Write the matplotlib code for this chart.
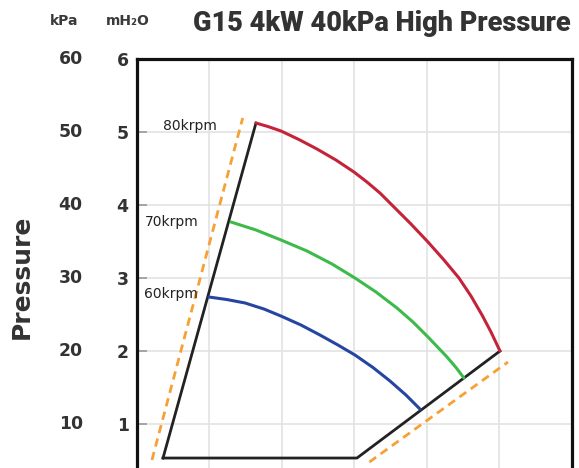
import matplotlib
matplotlib.use("Agg")
import matplotlib.pyplot as plt
import matplotlib.transforms as mtransforms

# values (x in grid units, y in mH2O)
red_x = [1.641, 1.807, 1.986, 2.234, 2.483, 2.745, 2.993, 3.172, 3.352,
         3.531, 3.766, 4.014, 4.234, 4.441, 4.607, 4.759, 4.883, 5.007]
red_y = [5.123, 5.075, 5.014, 4.897, 4.767, 4.616, 4.452, 4.315, 4.164,
         3.986, 3.753, 3.493, 3.247, 3.000, 2.753, 2.493, 2.260, 2.000]
green_x = [1.297, 1.641, 1.986, 2.345, 2.690, 3.007, 3.297, 3.586, 3.807,
           4.014, 4.152, 4.276, 4.400, 4.510]
green_y = [3.767, 3.658, 3.521, 3.370, 3.192, 3.000, 2.808, 2.589, 2.397,
           2.192, 2.048, 1.918, 1.774, 1.630]
blue_x = [0.993, 1.241, 1.490, 1.752, 1.986, 2.262, 2.524, 2.772, 3.007,
          3.255, 3.490, 3.710, 3.903]
blue_y = [2.740, 2.705, 2.658, 2.575, 2.479, 2.356, 2.219, 2.082, 1.945,
          1.774, 1.589, 1.397, 1.205]
env_x = [0.359, 3.034, 5.007]
env_y = [0.534, 0.534, 2.000]
limit_left_x = [0.206, 1.458]
limit_left_y = [0.507, 5.192]
limit_right_x = [3.205, 5.117]
limit_right_y = [0.479, 1.849]

mh2o_ticks = [1, 2, 3, 4, 5, 6]
kpa_labels = ["10", "20", "30", "40", "50", "60"]
speed_labels = ["80krpm", "70krpm", "60krpm"]

fig = plt.figure(figsize=(5.79, 4.68), dpi=100)
ax = fig.add_axes([0.2366, -0.062, 0.7513, 0.9359])
ax.set_xlim(0, 6)
ax.set_ylim(0, 6)

ax.grid(True, color="#e3e3e3", lw=1.2)
ax.set_axisbelow(True)
ax.set_xticks([1, 2, 3, 4, 5])
ax.tick_params(axis="x", length=0, labelbottom=False)
ax.set_yticks(mh2o_ticks)
ax.set_yticklabels([str(t) for t in mh2o_ticks])
ax.tick_params(axis="y", direction="in", length=7, width=1.2, color="#9a9a9a",
               pad=6, labelsize=12.4, labelcolor="#333333")
for lab in ax.get_yticklabels():
    lab.set_fontweight("bold")

for s in ["left", "top", "right"]:
    ax.spines[s].set_linewidth(2.3)
    ax.spines[s].set_color("#111111")
ax.spines["bottom"].set_visible(False)

# envelope
ax.plot([env_x[0], red_x[0]], [env_y[0], red_y[0]], color="#222222", lw=2.0)
ax.plot(env_x, env_y, color="#222222", lw=2.0)

# limits
ax.plot(limit_left_x, limit_left_y, color="#f7a035", lw=2.0, ls=(0, (3, 2)))
ax.plot(limit_right_x, limit_right_y, color="#f7a035", lw=2.0, ls=(0, (3, 2)))

ax.plot(red_x, red_y, color="#c42339", lw=2.2, solid_capstyle="round")
ax.plot(green_x, green_y, color="#3cba4a", lw=2.2, solid_capstyle="round")
ax.plot(blue_x, blue_y, color="#2645a3", lw=2.2, solid_capstyle="round")

ax.text(0.36, 5.08, speed_labels[0], fontsize=10, color="#222222", va="center")
ax.text(0.11, 3.77, speed_labels[1], fontsize=10, color="#222222", va="center")
ax.text(0.10, 2.78, speed_labels[2], fontsize=10, color="#222222", va="center")

# kPa scale
trans = mtransforms.blended_transform_factory(fig.transFigure, ax.transData)
for t, lab in zip(mh2o_ticks, kpa_labels):
    ax.text(0.122, t, lab, transform=trans, ha="center", va="center",
            fontsize=12.4, fontweight="bold", color="#333333")

fig.text(0.1105, 0.956, "kPa", ha="center", va="center", fontsize=10,
         fontweight="bold", color="#3a3a3a")
fig.text(0.220, 0.956, "mH₂O", ha="center", va="center", fontsize=10,
         fontweight="bold", color="#3a3a3a")
fig.text(0.038, 0.408, "Pressure", rotation=90, ha="center", va="center",
         fontsize=18, fontweight="bold", color="#333333")
fig.text(0.660, 0.949, "G15 4kW 40kPa High Pressure", ha="center", va="center",
         fontsize=19.5, fontweight="heavy", color="#333333", family="Roboto")

fig.savefig("out.png", dpi=100)
